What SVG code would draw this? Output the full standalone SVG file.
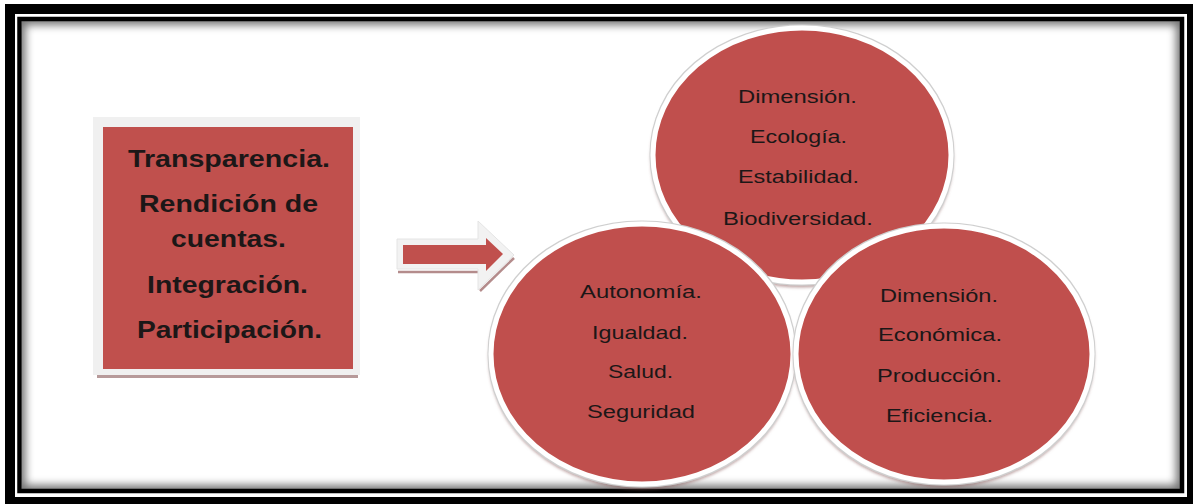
<svg xmlns="http://www.w3.org/2000/svg" width="1193" height="504" viewBox="0 0 1193 504">
  <style>
    .bx { font-family: "Liberation Sans", Arial, sans-serif; font-weight: bold; font-size: 24px; fill: #1c1717; }
    .ct { font-family: "Liberation Sans", Arial, sans-serif; font-size: 17.5px; fill: #1c1717; }
    .node { fill: #C0504D; stroke: #ffffff; stroke-width: 5; filter: url(#rim); }
  </style>
  <defs>
    <clipPath id="inner"><rect x="22" y="21" width="1158" height="468"/></clipPath>
    <filter id="blur" x="-5%" y="-5%" width="110%" height="110%"><feGaussianBlur stdDeviation="4"/></filter>
    <filter id="rim" x="-10%" y="-10%" width="120%" height="125%">
      <feMorphology in="SourceAlpha" operator="dilate" radius="1" result="d"/>
      <feFlood flood-color="#cfcfcf" result="g"/>
      <feComposite in="g" in2="d" operator="in" result="edge"/>
      <feOffset in="SourceAlpha" dy="3" result="o"/>
      <feGaussianBlur in="o" stdDeviation="1.5" result="ob"/>
      <feFlood flood-color="#8a5a5a" flood-opacity="0.55" result="sc"/>
      <feComposite in="sc" in2="ob" operator="in" result="sh"/>
      <feMerge><feMergeNode in="sh"/><feMergeNode in="edge"/><feMergeNode in="SourceGraphic"/></feMerge>
    </filter>
  </defs>

  <!-- frame -->
  <g id="frame">
    <rect x="5" y="4" width="1188" height="500" fill="#000"/>
    <rect x="15" y="14" width="1172" height="483" fill="#fff"/>
    <g clip-path="url(#inner)">
      <rect x="19.5" y="19" width="1162.5" height="472" fill="none" stroke="#000" stroke-width="12" opacity="0.55" filter="url(#blur)"/>
    </g>
    <rect x="19.5" y="19" width="1162.5" height="472" fill="none" stroke="#000" stroke-width="4.5"/>
  </g>

  <!-- left box -->
  <g id="principles">
    <rect x="97" y="374" width="261" height="4" fill="#b79a9a"/>
    <rect x="93" y="117" width="267" height="258" fill="#f0f0f0"/>
    <rect x="103" y="127" width="250" height="242" fill="#C0504D"/>
    <text class="bx" x="128" y="167" textLength="202" lengthAdjust="spacingAndGlyphs">Transparencia.</text>
    <text class="bx" x="139" y="212" textLength="179" lengthAdjust="spacingAndGlyphs">Rendición de</text>
    <text class="bx" x="171" y="247" textLength="115" lengthAdjust="spacingAndGlyphs">cuentas.</text>
    <text class="bx" x="147" y="293" textLength="161" lengthAdjust="spacingAndGlyphs">Integración.</text>
    <text class="bx" x="137" y="338" textLength="185" lengthAdjust="spacingAndGlyphs">Participación.</text>
  </g>

  <!-- connector -->
  <g id="connectors">
    <line x1="398" y1="272" x2="478" y2="272" stroke="#b48c8c" stroke-width="2.5"/>
    <line x1="480" y1="291" x2="514" y2="258" stroke="#b48c8c" stroke-width="2.5"/>
    <polygon points="397,239 478,239 478,221 514,255 478,290 478,269 397,269" fill="#f2f2f2" stroke="#e4e4e4" stroke-width="1"/>
    <polygon points="403,245 486,245 486,238 503,254 486,271 486,264 403,264" fill="#C0504D"/>
  </g>

  <!-- top circle -->
  <g id="ecologica">
    <ellipse class="node" cx="802" cy="155" rx="149" ry="127"/>
    <text class="ct" x="738" y="103" textLength="119" lengthAdjust="spacingAndGlyphs">Dimensión.</text>
    <text class="ct" x="750" y="143" textLength="97" lengthAdjust="spacingAndGlyphs">Ecología.</text>
    <text class="ct" x="738" y="183" textLength="121" lengthAdjust="spacingAndGlyphs">Estabilidad.</text>
    <text class="ct" x="723" y="225" textLength="150" lengthAdjust="spacingAndGlyphs">Biodiversidad.</text>
  </g>

  <!-- left circle -->
  <g id="social">
    <ellipse class="node" cx="642" cy="354" rx="151" ry="130"/>
    <text class="ct" x="580" y="298" textLength="122" lengthAdjust="spacingAndGlyphs">Autonomía.</text>
    <text class="ct" x="592" y="339" textLength="96" lengthAdjust="spacingAndGlyphs">Igualdad.</text>
    <text class="ct" x="608" y="378" textLength="65" lengthAdjust="spacingAndGlyphs">Salud.</text>
    <text class="ct" x="587" y="418" textLength="108" lengthAdjust="spacingAndGlyphs">Seguridad</text>
  </g>

  <!-- right circle -->
  <g id="economica">
    <ellipse class="node" cx="944" cy="354" rx="148" ry="128"/>
    <text class="ct" x="880" y="302" textLength="118" lengthAdjust="spacingAndGlyphs">Dimensión.</text>
    <text class="ct" x="878" y="341" textLength="124" lengthAdjust="spacingAndGlyphs">Económica.</text>
    <text class="ct" x="877" y="382" textLength="125" lengthAdjust="spacingAndGlyphs">Producción.</text>
    <text class="ct" x="886" y="422" textLength="107" lengthAdjust="spacingAndGlyphs">Eficiencia.</text>
  </g>
</svg>
